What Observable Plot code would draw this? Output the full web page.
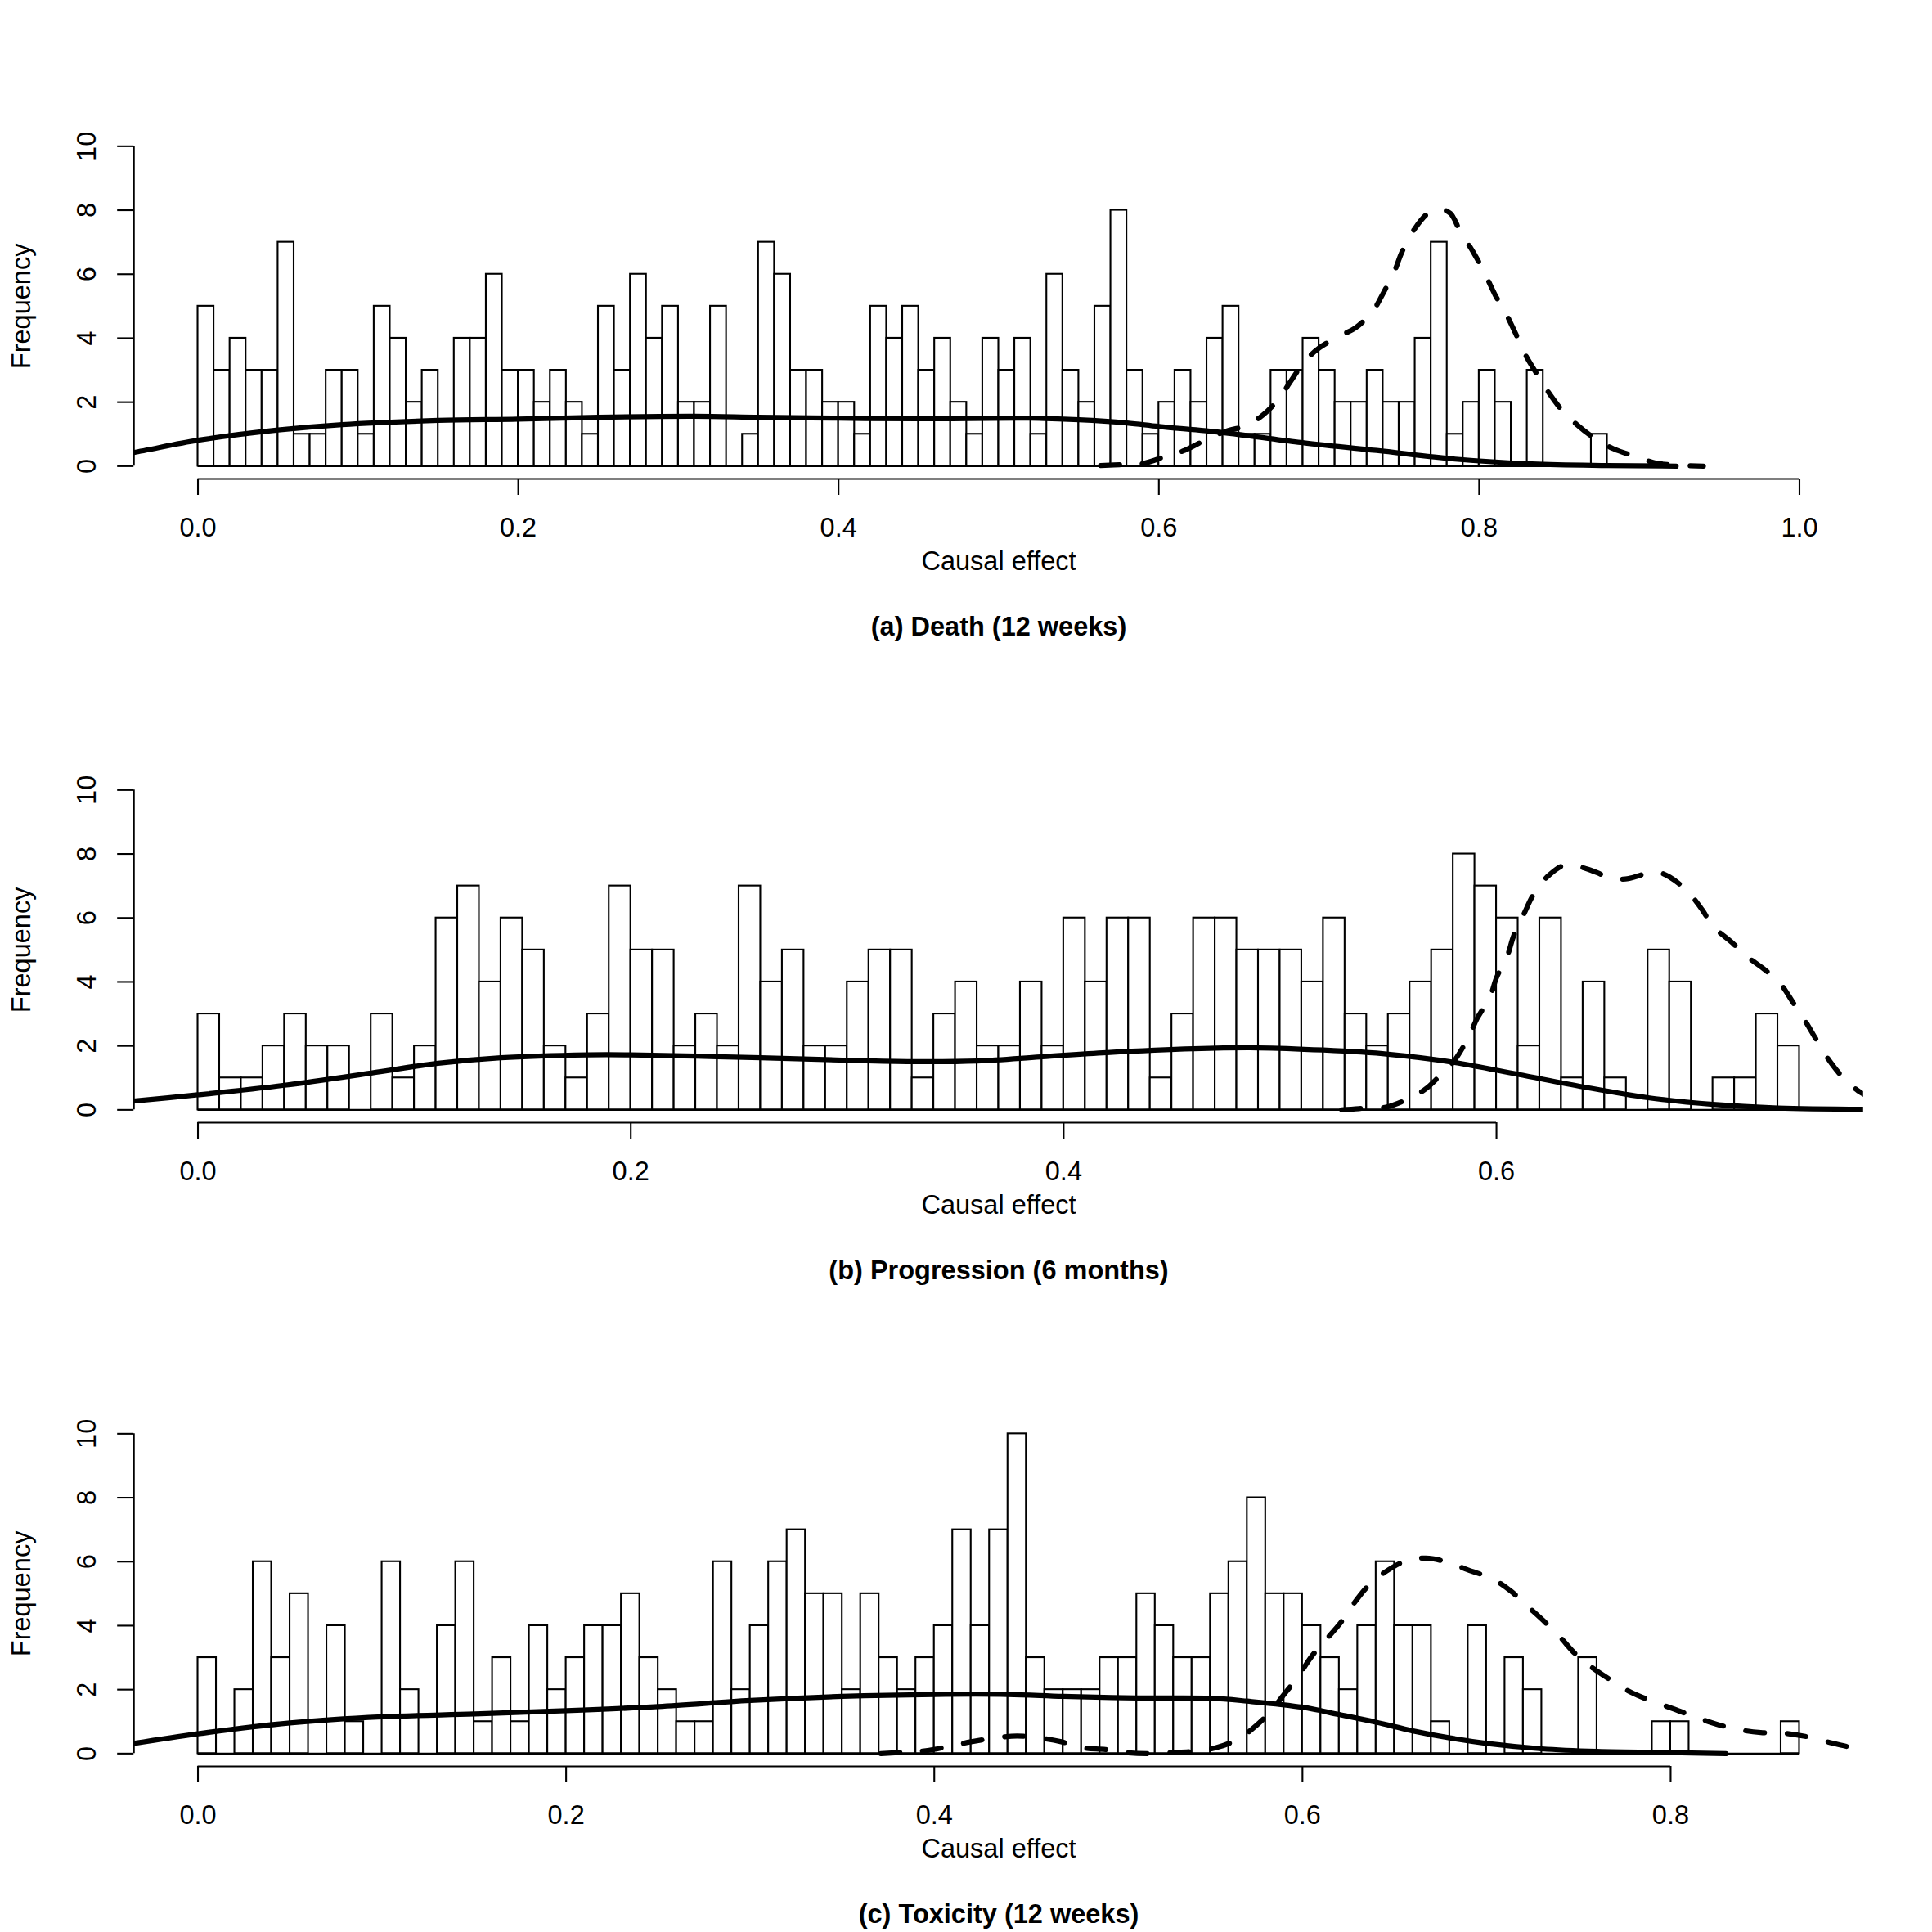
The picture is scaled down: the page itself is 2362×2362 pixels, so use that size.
<!DOCTYPE html>
<html><head><meta charset="utf-8">
<script src="https://cdn.jsdelivr.net/npm/d3@7"></script>
<script src="https://cdn.jsdelivr.net/npm/@observablehq/plot@0.6"></script>
<style>
html,body{margin:0;padding:0;background:#fff;}
#chart{width:2362px;}
#chart svg{display:block;}
</style></head><body><div id="chart"></div>
<script>
// ---------- data ----------
const binWidth = 0.01;

// (a) Death (12 weeks): counts per 0.01 bin starting at 0.00
const countsA = [5,3,4,3,3,7,1,1,3,3, 1,5,4,2,3,0,4,4,6,3, 3,2,3,2,1,5,3,6,4,5,
                 2,2,5,0,1,7,6,3,3,2, 2,1,5,4,5,3,4,2,1,4, 3,4,1,6,3,2,5,8,3,1,
                 2,3,2,4,5,1,1,3,3,4, 3,2,2,3,2,2,4,7,1,2, 3,2,0,3,0,0,0,1];
// (b) Progression (6 months)
const countsB = [3,1,1,2,3,2,2,0,3,1, 2,6,7,4,6,5,2,1,3,7, 5,5,2,3,2,7,4,5,2,2,
                 4,5,5,1,3,4,2,2,4,2, 6,4,6,6,1,3,6,6,5,5, 5,4,6,3,2,3,4,5,8,7,
                 6,2,6,1,4,1,0,5,4,0, 1,1,3,2];
// (c) Toxicity (12 weeks)
const countsC = [3,0,2,6,3,5,0,4,1,0, 6,2,0,4,6,1,3,1,4,2, 3,4,4,5,3,2,1,1,6,2,
                 4,6,7,5,5,2,5,3,2,3, 4,7,4,7,10,3,2,2,2,3, 3,5,4,3,3,5,6,8,5,5,
                 4,3,2,4,6,4,4,1,0,4, 0,3,2,0,0,3,0,0,0,1, 1,0,0,0,0,0,1];

// density curves [x, y] (solid and dashed)
const solidA = [[-0.05,0.37],[-0.04,0.43],[0,0.81],[0.05,1.13],[0.09,1.30],[0.15,1.43],[0.20,1.47],
  [0.25,1.53],[0.31,1.56],[0.35,1.53],[0.40,1.50],[0.45,1.48],[0.52,1.50],[0.55,1.45],[0.58,1.35],
  [0.60,1.24],[0.64,1.05],[0.687,0.75],[0.736,0.49],[0.785,0.22],[0.833,0.07],[0.88,0.02],[0.923,0.0]];
const dashedA = [[0.5636,0.02],[0.578,0.05],[0.59,0.08],[0.605,0.32],[0.616,0.49],[0.63,0.84],[0.642,1.09],
  [0.654,1.26],[0.664,1.56],[0.675,2.11],[0.682,2.63],[0.691,3.27],[0.700,3.69],[0.713,4.07],[0.723,4.33],
  [0.734,4.88],[0.740,5.40],[0.747,6.08],[0.752,6.72],[0.760,7.44],[0.768,7.9],[0.775,8.04],[0.782,7.9],
  [0.788,7.36],[0.797,6.63],[0.803,6.08],[0.810,5.35],[0.816,4.84],[0.823,4.12],[0.828,3.56],[0.836,2.88],
  [0.843,2.33],[0.852,1.73],[0.861,1.30],[0.873,0.84],[0.884,0.54],[0.899,0.28],[0.910,0.10],[0.923,0.03],[0.94,0.0]];

const solidB = [[-0.035,0.24],[0,0.47],[0.04,0.77],[0.08,1.15],[0.11,1.45],[0.14,1.63],[0.18,1.72],
  [0.20,1.72],[0.23,1.68],[0.26,1.63],[0.30,1.55],[0.33,1.51],[0.36,1.53],[0.39,1.66],[0.42,1.79],
  [0.46,1.91],[0.49,1.94],[0.52,1.87],[0.55,1.74],[0.58,1.49],[0.61,1.11],[0.64,0.72],[0.67,0.38],
  [0.70,0.17],[0.73,0.06],[0.775,0.02]];
const dashedB = [[0.5285,0.0],[0.5364,0.04],[0.549,0.085],[0.559,0.34],[0.567,0.64],[0.575,1.15],[0.580,1.49],
  [0.587,2.26],[0.591,2.85],[0.597,3.53],[0.600,4.13],[0.605,4.81],[0.608,5.45],[0.613,6.17],[0.617,6.72],
  [0.624,7.32],[0.632,7.66],[0.642,7.53],[0.650,7.32],[0.656,7.22],[0.661,7.23],[0.670,7.40],[0.675,7.42],
  [0.680,7.28],[0.688,6.85],[0.695,6.26],[0.700,5.74],[0.709,5.22],[0.715,4.83],[0.724,4.38],[0.731,3.96],
  [0.737,3.36],[0.742,2.85],[0.748,2.17],[0.753,1.62],[0.760,1.02],[0.767,0.6],[0.775,0.3]];

const solidC = [[-0.04,0.27],[0,0.62],[0.05,0.96],[0.10,1.15],[0.15,1.24],[0.20,1.34],[0.25,1.47],
  [0.30,1.66],[0.35,1.79],[0.40,1.85],[0.44,1.85],[0.47,1.79],[0.51,1.74],[0.55,1.73],[0.57,1.64],
  [0.60,1.45],[0.62,1.22],[0.64,0.98],[0.66,0.71],[0.68,0.49],[0.70,0.32],[0.73,0.15],[0.76,0.07],
  [0.80,0.03],[0.83,0.0]];
const dashedC = [[0.371,0.0],[0.384,0.04],[0.3955,0.09],[0.409,0.24],[0.420,0.37],[0.433,0.49],[0.445,0.55],
  [0.457,0.49],[0.469,0.37],[0.481,0.18],[0.493,0.13],[0.505,0.03],[0.517,0.0],[0.529,0.03],[0.541,0.07],
  [0.554,0.2],[0.565,0.45],[0.575,0.88],[0.583,1.34],[0.590,1.85],[0.597,2.36],[0.605,3.04],[0.612,3.51],
  [0.621,4.11],[0.627,4.62],[0.636,5.26],[0.645,5.68],[0.656,6.02],[0.667,6.11],[0.679,5.98],[0.690,5.74],
  [0.703,5.47],[0.713,5.09],[0.722,4.62],[0.731,4.15],[0.740,3.64],[0.748,3.13],[0.758,2.66],[0.768,2.28],
  [0.779,1.90],[0.790,1.64],[0.802,1.39],[0.813,1.15],[0.825,0.92],[0.837,0.75],[0.849,0.66],[0.861,0.64],
  [0.873,0.54],[0.885,0.37],[0.897,0.21],[0.91,0.12]];

const xLimits = [[0, 1], [0, 0.74], [0, 0.87]];
const xTicks = [[0, 0.2, 0.4, 0.6, 0.8, 1.0], [0, 0.2, 0.4, 0.6], [0, 0.2, 0.4, 0.6, 0.8]];
const yTicks = [0, 2, 4, 6, 8, 10];
const titles = ["(a) Death (12 weeks)", "(b) Progression (6 months)", "(c) Toxicity (12 weeks)"];
const xLabel = "Causal effect";
const yLabel = "Frequency";

// ---------- drawing ----------
const FONT = "'Liberation Sans', Arial, Helvetica, sans-serif";
const FS = 32.5;

function panel(counts, solid, dashed, xlim, xticks, title, height) {
  const ext = (xlim[1] - xlim[0]) * 0.04;
  const bars = counts.map((c, i) => ({x1: xlim[0] + i * binWidth, x2: xlim[0] + (i + 1) * binWidth, count: c}))
                     .filter(d => d.count > 0);
  const histEnd = xlim[0] + counts.length * binWidth;
  return Plot.plot({
    width: 2362,
    height,
    marginLeft: 163.2,
    marginRight: 84.2,
    marginTop: 162.7,
    marginBottom: height - 585,
    x: {domain: [xlim[0] - ext, xlim[1] + ext]},
    y: {domain: [-0.4, 10.4]},
    style: {fontFamily: FONT, fontSize: FS + "px", background: "white", color: "black", overflow: "visible"},
    marks: [
      Plot.rect(bars, {x1: "x1", x2: "x2", y1: 0, y2: "count", fill: "white", stroke: "black", strokeWidth: 2.1}),
      Plot.ruleY([0], {x1: xlim[0], x2: histEnd, stroke: "black", strokeWidth: 2.1}),
      Plot.line(solid, {x: d => d[0], y: d => d[1], stroke: "black", strokeWidth: 6.25,
        curve: "catmull-rom", strokeLinecap: "round", strokeLinejoin: "round", clip: true}),
      Plot.line(dashed, {x: d => d[0], y: d => d[1], stroke: "black", strokeWidth: 6.25,
        curve: "catmull-rom", strokeDasharray: "23,28", strokeLinecap: "round", strokeLinejoin: "round", clip: true}),
      Plot.ruleY([-0.4], {x1: xticks[0], x2: xticks[xticks.length - 1], stroke: "black", strokeWidth: 2.1}),
      Plot.ruleX([xlim[0] - ext], {y1: 0, y2: 10, stroke: "black", strokeWidth: 2.1}),
      Plot.axisX({ticks: xticks, tickSize: 20, tickPadding: 27.6, tickFormat: d3.format(".1f"),
        label: null, fontSize: FS, strokeWidth: 2.1}),
      Plot.axisY({ticks: yTicks, tickSize: 20, tickPadding: 27, tickRotate: -90,
        label: null, fontSize: FS, strokeWidth: 2.1}),
      Plot.text([yLabel], {frameAnchor: "left", dx: -127, rotate: -90, lineAnchor: "bottom",
        textAnchor: "middle", fontSize: FS}),
      Plot.text([xLabel], {frameAnchor: "bottom", dy: 111, lineAnchor: "bottom", textAnchor: "middle", fontSize: FS}),
      Plot.text([title], {frameAnchor: "bottom", dy: 191, lineAnchor: "bottom", textAnchor: "middle",
        fontSize: FS, fontWeight: "bold"})
    ]
  });
}

const chart = document.getElementById("chart");
const heights = [787, 787, 788];
const allCounts = [countsA, countsB, countsC];
const allSolid = [solidA, solidB, solidC];
const allDashed = [dashedA, dashedB, dashedC];
for (let k = 0; k < 3; k++) {
  chart.appendChild(panel(allCounts[k], allSolid[k], allDashed[k], xLimits[k], xTicks[k], titles[k], heights[k]));
}
</script>
</body></html>
